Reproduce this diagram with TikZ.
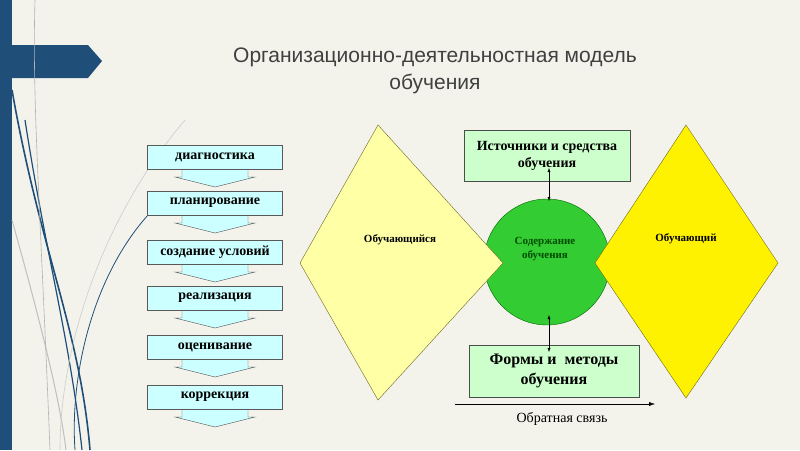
\documentclass[tikz,border=0pt]{standalone}
\usepackage{fontspec}
\setmainfont{Liberation Serif}
\newfontfamily\titlefont{Liberation Sans}
\usetikzlibrary{arrows.meta}
\definecolor{bg}{HTML}{F3F3EC}
\definecolor{barblue}{HTML}{1F4E79}
\definecolor{cyanbox}{HTML}{CCFFFF}
\definecolor{greenbox}{HTML}{CCFFCC}
\definecolor{paleyel}{HTML}{FFFFA6}
\definecolor{circgreen}{HTML}{33CC33}
\tikzset{
 stepbox/.style={draw=gray!70!black,fill=cyanbox,minimum width=135pt,minimum height=24pt,inner sep=0pt,font=\bfseries\fontsize{14}{14}\selectfont},
 downarrow/.style={draw=gray!70!black,fill=cyanbox},
 infobox/.style={draw=black!70,fill=greenbox,align=center,inner sep=0pt,font=\bfseries\fontsize{14}{17}\selectfont},
 dlabel/.style={font=\bfseries\fontsize{11}{12}\selectfont},
 titletext/.style={text=black!75,font=\titlefont\fontsize{21}{21}\selectfont},
 link/.style={{Latex[length=4pt,width=3pt]}-{Latex[length=4pt,width=3pt]},thin}
}
\begin{document}
\begin{tikzpicture}[x=1pt,y=-1pt]
\useasboundingbox (0,0) rectangle (800,450);
\fill[bg] (0,0) rectangle (800,450);
\fill[barblue] (0,0) rectangle (12,450);
\fill[barblue] (12,45) -- (88,45) -- (102,61) -- (88,78) -- (12,78) -- cycle;
% decorative curves
\draw[barblue,line width=1.6pt] (12,90) .. controls (40,250) and (80,330) .. (90,450);
\draw[barblue,line width=1.2pt] (25,120) .. controls (45,250) and (70,340) .. (82,450);
\draw[gray!50,line width=1pt] (12,220) .. controls (40,320) and (60,400) .. (66,450);
\draw[barblue,line width=0.8pt] (148,215) .. controls (90,280) and (70,380) .. (75,450);
\draw[gray!40,line width=0.6pt] (185,120) .. controls (100,220) and (60,350) .. (60,450);
\draw[gray!60,line width=0.6pt] (35,0) .. controls (32,100) and (40,200) .. (50,450);

\node[titletext] (t1) at (435,57) {Организационно-деятельностная модель};
\node[titletext] (t2) at (435,84) {обучения};

% steps
\foreach \n/\y/\t in {s1/157/диагностика,s2/203/планирование,s3/252/создание условий,s4/298/реализация,s5/347/оценивание,s6/397/коррекция}{
  \draw[downarrow] (182,\y+12) -- (182,\y+20) -- (175,\y+20) -- (215,\y+30) -- (255,\y+20) -- (248,\y+20) -- (248,\y+12) -- cycle;
  \node[stepbox] (\n) at (215,\y) {\t};
}

% circle and diamonds
\node[circle,draw=green!40!black,fill=circgreen,minimum size=126pt,inner sep=0pt] (c) at (547,262) {};
\draw[draw=olive!70!black,fill=paleyel] (378,125) -- (503,263) -- (378,400) -- (300,263) -- cycle;
\draw[draw=olive!70!black,fill=yellow] (686,125) -- (778,263) -- (686,398) -- (595,263) -- cycle;
\node[dlabel] (l1) at (400,240) {Обучающийся};
\node[dlabel] (l2) at (686,239) {Обучающий};
\node[align=center,text=green!30!black,font=\bfseries\fontsize{11}{14}\selectfont] (cl) at (545,249) {Содержание\\обучения};

\node[infobox,minimum width=166pt,minimum height=51pt] (top) at (547,156) {Источники и средства\\обучения};
\node[infobox,minimum width=170pt,minimum height=52pt,font=\bfseries\fontsize{16}{20}\selectfont] (bot) at (554,371) {Формы и~~методы\\обучения};
\coordinate (a1) at (549,168);
\coordinate (a2) at (549,201);
\coordinate (b1) at (549,315);
\coordinate (b2) at (549,352);
\draw[link] (a1) -- (a2);
\draw[link] (b1) -- (b2);

\coordinate (f1) at (455,404);
\coordinate (f2) at (655,404);
\draw[-{Latex[length=6pt,width=4pt]}] (f1) -- (f2);
\node[font=\fontsize{14}{14}\selectfont] (fb) at (562,419) {Обратная связь};
\end{tikzpicture}
\end{document}
